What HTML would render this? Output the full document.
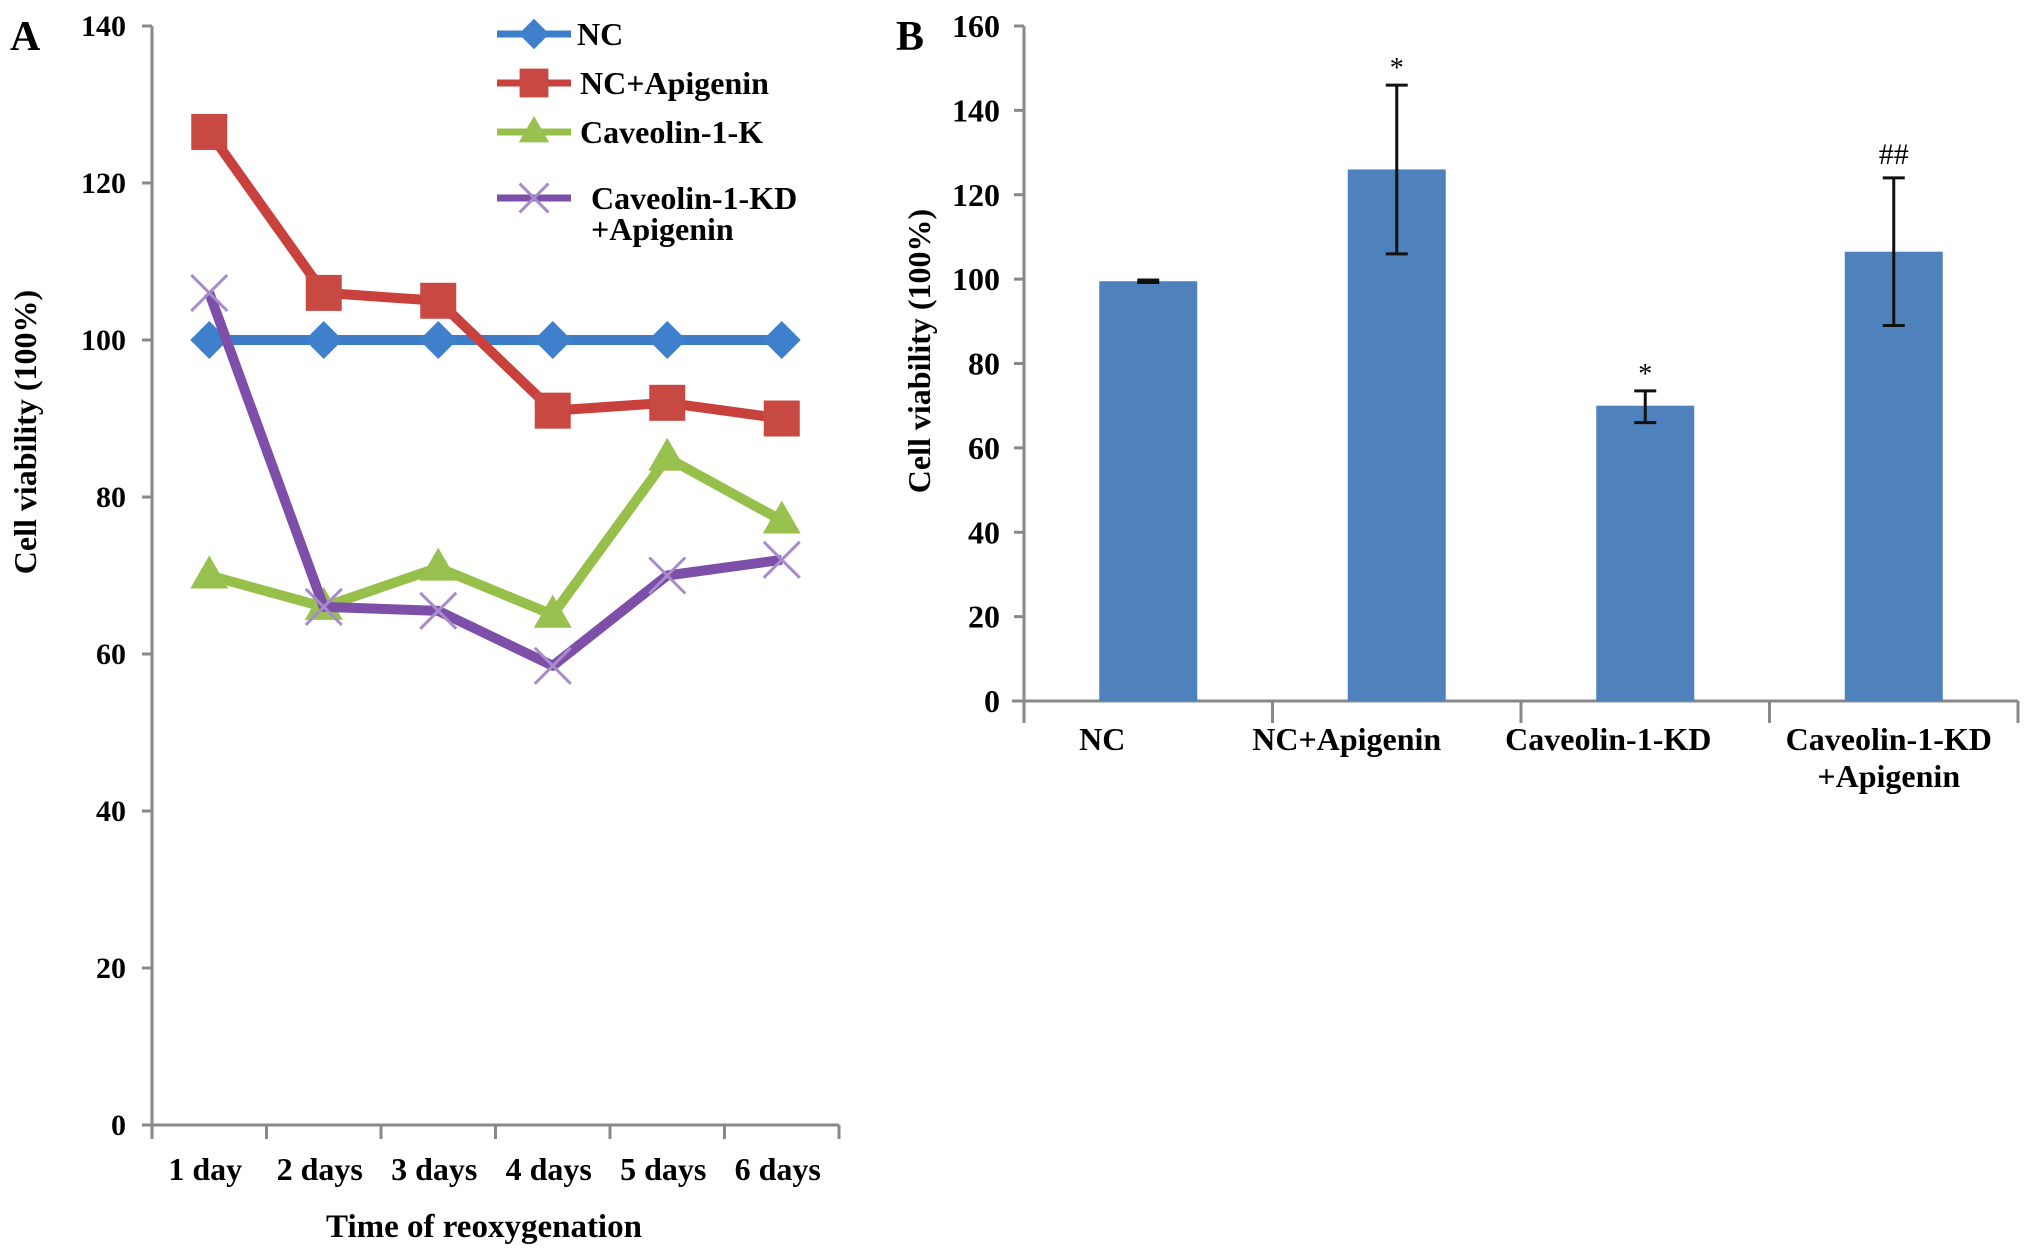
<!DOCTYPE html>
<html><head><meta charset="utf-8"><style>
html,body{margin:0;padding:0;background:#fff;}
svg{display:block;font-family:"Liberation Serif",serif;font-weight:bold;}
</style></head><body>
<svg width="2031" height="1253" viewBox="0 0 2031 1253" xmlns="http://www.w3.org/2000/svg">
<g id="panelA"></g>
<g id="panelB"></g>
</svg>
<script>
// Panel A data
const daysA = ["1 day","2 days","3 days","4 days","5 days","6 days"];
const ticksA = [0,20,40,60,80,100,120,140];
const seriesNames = ["NC","NC+Apigenin","Caveolin-1-K","Caveolin-1-KD +Apigenin"];
const ncA = [100,100,100,100,100,100];
const ncApiA = [126.5,106,105,91,92,90];
const cavA = [70,66,71,65,85,77];
const kdApiA = [106,66,65.5,58.5,70,72];
// Panel B data
const groupsB = ["NC","NC+Apigenin","Caveolin-1-KD","Caveolin-1-KD|+Apigenin"];
const meansB = [99.5,126,70,106.5];
const errLowB = [99.2,106,66,89];
const errHighB = [99.8,146,73.5,124];
const marksB = ["","*","*","##"];
const ticksB = [0,20,40,60,80,100,120,140,160];

const NS="http://www.w3.org/2000/svg";
function mk(parent,tag,attrs,text){const e=document.createElementNS(NS,tag);for(const k in attrs)e.setAttribute(k,attrs[k]);if(text!==undefined)e.textContent=text;parent.appendChild(e);return e;}

// ---- Panel A ----
const A=document.getElementById('panelA');
const ax0=152, ax1=839, ay0=1125, ay1=26;
const yA=v=>ay0-(v/140)*(ay0-ay1);
const xA=i=>ax0+(i+0.5)*(ax1-ax0)/daysA.length;
let t;
t=mk(A,'text',{x:10,y:50,'font-size':42});t.textContent='A';


let l=mk(A,'line',{x1:ax0,y1:ay1,x2:ax0,y2:ay0,stroke:'#888','stroke-width':3});


l=mk(A,'line',{x1:ax0,y1:ay0,x2:ax1,y2:ay0,stroke:'#888','stroke-width':3});


ticksA.forEach(v=>{
  mk(A,'line',{x1:ax0-10,y1:yA(v),x2:ax0,y2:yA(v),stroke:'#888','stroke-width':3});
  const e=mk(A,'text',{x:126,y:yA(v)+10,'text-anchor':'end','font-size':30},String(v));
  
  
});
for(let i=0;i<=daysA.length;i++){const x=ax0+i*(ax1-ax0)/daysA.length;mk(A,'line',{x1:x,y1:ay0,x2:x,y2:ay0+14,stroke:'#888','stroke-width':3});}
daysA.forEach((d,i)=>{const e=mk(A,'text',{x:xA(i)-4,y:1180,'text-anchor':'middle','font-size':32},d);
  
  });
t=mk(A,'text',{x:484,y:1237,'text-anchor':'middle','font-size':33},'Time of reoxygenation');


t=mk(A,'text',{x:0,y:0,'text-anchor':'middle','font-size':32,transform:'translate(36,432) rotate(-90)'},'Cell viability (100%)');



const colors=['#3d7cc9','#c9413d','#97c04a','#7d4fa8'];
const markerCol=['#3f80cc','#c84842','#99c14f','#a78ccc'];
function marker(g,type,x,y,i,s){
  s=s||1;
  if(type===0) return mk(g,'polygon',{points:`${x},${y-19*s} ${x+19*s},${y} ${x},${y+19*s} ${x-19*s},${y}`,fill:markerCol[i]});
  if(type===1) return mk(g,'rect',{x:x-18*s,y:y-18*s,width:36*s,height:36*s,fill:markerCol[i]});
  if(type===2) return mk(g,'polygon',{points:`${x},${y-20*s} ${x+19*s},${y+13*s} ${x-19*s},${y+13*s}`,fill:markerCol[i]});
  const gg=mk(g,'g',{stroke:markerCol[i],'stroke-width':3});
  mk(gg,'line',{x1:x-18*s,y1:y-18*s,x2:x+18*s,y2:y+18*s});mk(gg,'line',{x1:x-18*s,y1:y+18*s,x2:x+18*s,y2:y-18*s});return gg;
}
const allA=[ncA,ncApiA,cavA,kdApiA];
const seriesKeys=['nc','nc-apigenin','caveolin-1-k','caveolin-1-kd-apigenin'];
[0,2,3,1].forEach(si=>{
  const data=allA[si];
  const g=mk(A,'g',{});
  
  
  const pts=data.map((v,i)=>xA(i)+','+yA(v)).join(' ');
  mk(g,'polyline',{points:pts,fill:'none',stroke:colors[si],'stroke-width':10,'stroke-linejoin':'round'});
  data.forEach((v,i)=>{const m=marker(g,si,xA(i),yA(v),si);
    
    });
});
// legend
const legY=[34,83,132,198];
seriesNames.forEach((n,i)=>{
  const g=mk(A,'g',{});
  
  
  mk(g,'line',{x1:497,y1:legY[i],x2:571,y2:legY[i],stroke:colors[i],'stroke-width':7});
  marker(g,i,534,legY[i],i,0.8);
  if(i===3){
    mk(g,'text',{x:591,y:legY[i]+11,'font-size':32},'Caveolin-1-KD');
    mk(g,'text',{x:591,y:legY[i]+42,'font-size':32},'+Apigenin');
  } else mk(g,'text',{x:i===0?577:580,y:legY[i]+11,'font-size':32},n);
});

// ---- Panel B ----
const B=document.getElementById('panelB');
const bx0=1024,bx1=2018,by0=701,by1=26;
const yB=v=>by0-(v/160)*(by0-by1);
const gw=(bx1-bx0)/groupsB.length;
const xB=i=>bx0+(i+0.5)*gw;
const labelShift=[-46,-50,-37,-5];
t=mk(B,'text',{x:896,y:50,'font-size':42},'B');


l=mk(B,'line',{x1:bx0,y1:by1,x2:bx0,y2:by0+22,stroke:'#888','stroke-width':3});


l=mk(B,'line',{x1:bx0-12,y1:by0,x2:bx1,y2:by0,stroke:'#888','stroke-width':3});


ticksB.forEach(v=>{
  mk(B,'line',{x1:bx0-10,y1:yB(v),x2:bx0,y2:yB(v),stroke:'#888','stroke-width':3});
  const e=mk(B,'text',{x:1000,y:yB(v)+11,'text-anchor':'end','font-size':32},String(v));
  
  
});
for(let i=1;i<=groupsB.length;i++){const x=bx0+i*gw;mk(B,'line',{x1:x,y1:by0,x2:x,y2:by0+22,stroke:'#888','stroke-width':3});}
t=mk(B,'text',{x:0,y:0,'text-anchor':'middle','font-size':32,transform:'translate(930,351) rotate(-90)'},'Cell viability (100%)');


groupsB.forEach((gname,i)=>{
  const x=xB(i);
  const r=mk(B,'rect',{x:x-49,y:yB(meansB[i]),width:98,height:yB(0)-yB(meansB[i]),fill:'#4f81bd'});
  
  
  const eg=mk(B,'g',{stroke:'#111','stroke-width':3});
  
  
  mk(eg,'line',{x1:x,y1:yB(errLowB[i]),x2:x,y2:yB(errHighB[i])});
  mk(eg,'line',{x1:x-11,y1:yB(errLowB[i]),x2:x+11,y2:yB(errLowB[i])});
  mk(eg,'line',{x1:x-11,y1:yB(errHighB[i]),x2:x+11,y2:yB(errHighB[i])});
  if(marksB[i]){const m=mk(B,'text',{x:x,y:yB(errHighB[i])-(marksB[i]==='*'?8:14),'text-anchor':'middle','font-size':marksB[i]==='*'?28:30,'font-weight':'normal'},marksB[i]);
    
    }
  const lines=gname.split('|');
  lines.forEach((ln,k)=>{const e=mk(B,'text',{x:x+labelShift[i],y:750+k*37,'text-anchor':'middle','font-size':32},ln);
    
    });
});
</script>
</body></html>
